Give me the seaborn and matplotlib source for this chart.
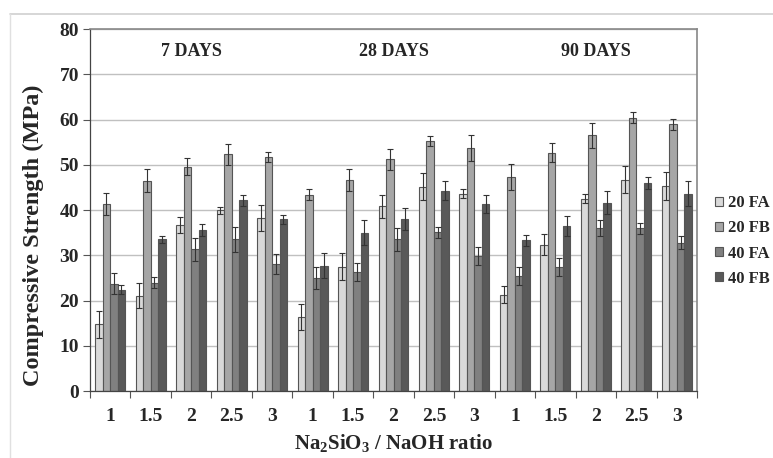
import numpy as np
import pandas as pd
import seaborn as sns
import matplotlib
matplotlib.use("Agg")
import matplotlib.pyplot as plt
from matplotlib.lines import Line2D
from matplotlib.patches import Patch

ages = ["7 DAYS", "28 DAYS", "90 DAYS"]
ratios = ["1", "1.5", "2", "2.5", "3"]
series = ["20 FA", "20 FB", "40 FA", "40 FB"]

# values per age, rows = ratio, columns = series
vals_7 = [[14.7, 41.3, 23.7, 22.4],
          [21.1, 46.5, 23.9, 33.5],
          [36.7, 49.6, 31.3, 35.6],
          [39.9, 52.3, 33.5, 42.1],
          [38.2, 51.8, 28.0, 38.0]]
errs_7 = [[2.9, 2.4, 2.3, 1.0],
          [2.8, 2.5, 1.2, 0.8],
          [1.8, 1.9, 2.5, 1.4],
          [0.8, 2.3, 2.7, 1.3],
          [2.9, 1.1, 2.2, 1.0]]
vals_28 = [[16.3, 43.4, 25.0, 27.7],
           [27.5, 46.6, 26.3, 35.0],
           [40.8, 51.2, 33.5, 38.0],
           [45.1, 55.3, 35.1, 44.3],
           [43.6, 53.7, 29.9, 41.4]]
errs_28 = [[2.9, 1.2, 2.5, 2.8],
           [3.0, 2.5, 2.0, 2.8],
           [2.5, 2.3, 2.5, 2.5],
           [3.0, 1.1, 1.2, 2.0],
           [1.0, 2.9, 2.0, 2.0]]
vals_90 = [[21.3, 47.3, 25.5, 33.3],
           [32.3, 52.7, 27.4, 36.5],
           [42.5, 56.5, 36.0, 41.6],
           [46.7, 60.4, 36.0, 45.9],
           [45.3, 58.9, 32.8, 43.6]]
errs_90 = [[1.8, 2.8, 2.0, 1.2],
           [2.3, 2.0, 2.0, 2.2],
           [1.0, 2.7, 1.7, 2.5],
           [3.0, 1.2, 1.2, 1.3],
           [3.0, 1.3, 1.5, 2.7]]

colors = ["#d9d9d9", "#a6a6a6", "#808080", "#595959"]

rows = []
for age, vals, errs in zip(ages, [vals_7, vals_28, vals_90], [errs_7, errs_28, errs_90]):
    for r, vrow, erow in zip(ratios, vals, errs):
        for s, v, e in zip(series, vrow, erow):
            rows.append({"group": f"{age}|{r}", "ratio": r, "series": s, "value": v, "err": e})
df = pd.DataFrame(rows)
order = [f"{a}|{r}" for a in ages for r in ratios]

sns.set_style("white")
plt.rcParams["font.family"] = ["Liberation Serif", "DejaVu Serif"]
plt.rcParams["font.weight"] = "bold"
plt.rcParams["mathtext.fontset"] = "custom"
plt.rcParams["mathtext.rm"] = "Liberation Serif:bold"
plt.rcParams["mathtext.it"] = "Liberation Serif:bold"
plt.rcParams["mathtext.bf"] = "Liberation Serif:bold"
plt.rcParams["mathtext.default"] = "rm"

W, H = 773, 458
fig = plt.figure(figsize=(W / 100, H / 100), dpi=100)
ax = fig.add_axes([90 / W, 1 - 391 / H, (697 - 90) / W, (391 - 29) / H])

sns.barplot(data=df, x="group", y="value", hue="series", order=order,
            hue_order=series, palette=colors, errorbar=None, width=0.74,
            edgecolor="#555555", linewidth=0.8, saturation=1, ax=ax, legend=False, zorder=2)

# error bars from bar patches
for cont, s in zip(ax.containers, series):
    sub = df[df["series"] == s].set_index("group").loc[order]
    xs = [p.get_x() + p.get_width() / 2 for p in cont.patches]
    ax.errorbar(xs, sub["value"].values, yerr=sub["err"].values, fmt="none",
                ecolor="#333333", elinewidth=0.8, capsize=2.5, capthick=0.8, zorder=3)

ax.set_ylim(0, 80)
ax.set_xlim(-0.5, len(order) - 0.5)
ax.set_yticks(range(0, 81, 10))
ax.yaxis.grid(True, color="#c0c0c0", linewidth=1.0, zorder=0)
ax.set_axisbelow(True)

# major ticks at boundaries, labels at centres
ax.set_xticks(np.arange(-0.5, len(order), 1.0))
ax.set_xticklabels([])
ax.set_xticks(np.arange(len(order)), minor=True)
ax.set_xticklabels([o.split("|")[1] for o in order], minor=True)
ax.tick_params(axis="x", which="major", direction="out", length=5, color="#555555", width=0.8, bottom=True)
ax.tick_params(axis="x", which="minor", length=0, pad=12, labelsize=14)
ax.tick_params(axis="y", direction="out", length=5, color="#555555", width=0.8, left=True, labelsize=14, pad=3)
for lab in ax.get_xticklabels(minor=True) + ax.get_yticklabels():
    lab.set_fontweight("bold")

for side in ["left", "bottom"]:
    ax.spines[side].set_color("#444444")
    ax.spines[side].set_linewidth(0.9)
for side in ["top", "right"]:
    ax.spines[side].set_color("#888888")
    ax.spines[side].set_linewidth(1.2)

ax.set_ylabel("Compressive Strength (MPa)", fontsize=17.5, fontweight="bold")
ax.yaxis.set_label_coords(-0.075, 0.43)
ax.set_xlabel(r"Na$_2$SiO$_3$ / NaOH ratio", fontsize=15, fontweight="bold", labelpad=5)

for i, age in enumerate(ages):
    ax.text(2 + 5 * i, 75, age, ha="center", va="center", fontsize=13, fontweight="bold")

handles = [Patch(facecolor=c, edgecolor="#555555", linewidth=0.8) for c in colors]
leg = fig.legend(handles, series, loc="center left", bbox_to_anchor=(715 / W, 1 - 241 / H),
                 frameon=False, prop={"family": "Liberation Serif", "weight": "bold", "size": 12},
                 handlelength=0.45, handleheight=0.45, handletextpad=0.35, labelspacing=0.55,
                 borderpad=0, borderaxespad=0)

# outer chart frame (top and left)
fig.add_artist(Line2D([10 / W, 1], [1 - 14 / H, 1 - 14 / H], color="#d0d0d0", linewidth=1.2))
fig.add_artist(Line2D([10 / W, 10 / W], [0, 1 - 14 / H], color="#e0e0e0", linewidth=1.0))

fig.savefig("out.png", dpi=100)
